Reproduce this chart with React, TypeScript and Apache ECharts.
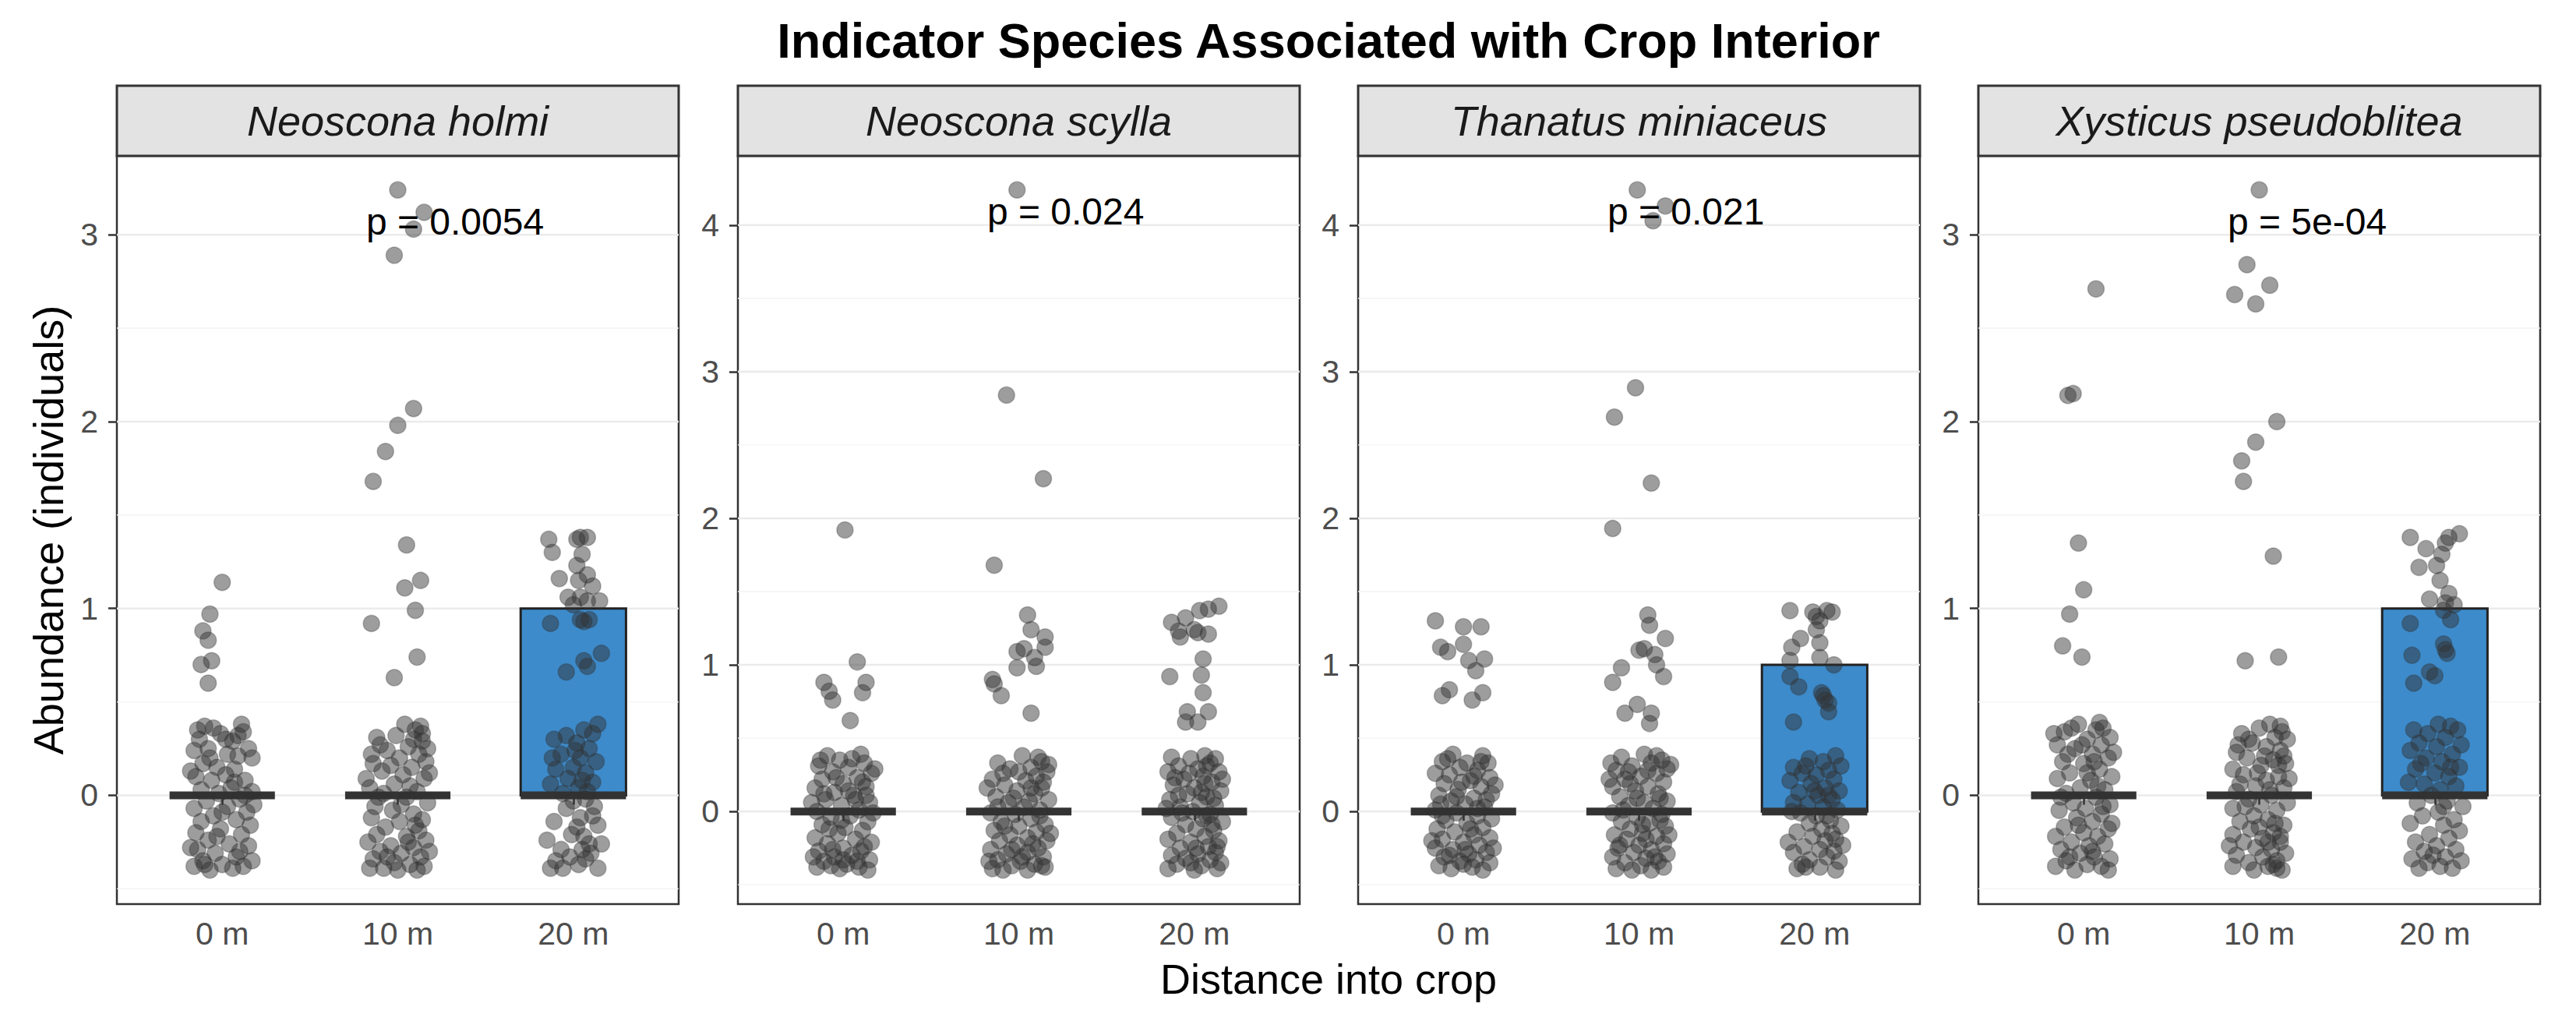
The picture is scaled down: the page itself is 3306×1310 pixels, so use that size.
import React, { useEffect, useRef } from "react";
import * as echarts from "echarts";

// ---------- data ----------
const chartTitle = "Indicator Species Associated with Crop Interior";
const xAxisTitle = "Distance into crop";
const yAxisTitle = "Abundance (individuals)";
const species = ["Neoscona holmi", "Neoscona scylla", "Thanatus miniaceus", "Xysticus pseudoblitea"];
const distances = ["0 m", "10 m", "20 m"];
const pValueLabels = ["p = 0.0054", "p = 0.024", "p = 0.021", "p = 5e-04"];
const pLabelX = 1.82;
const pLabelY = [3.07, 4.09, 4.09, 3.07];
const yTickValues = [[0, 1, 2, 3], [0, 1, 2, 3, 4], [0, 1, 2, 3, 4], [0, 1, 2, 3]];
const boxQ1 = [[0, 0, 0], [0, 0, 0], [0, 0, 0], [0, 0, 0]];
const boxMedian = [[0, 0, 0], [0, 0, 0], [0, 0, 0], [0, 0, 0]];
const boxQ3 = [[0, 0, 1], [0, 0, 0], [0, 0, 1], [0, 0, 1]];

// jittered points: [horizontal offset from category, abundance with vertical jitter]
const holmi0: number[][] = [
  [0.00,1.14],[-0.07,0.97],[-0.11,0.88],[-0.08,0.83],[-0.12,0.70],[-0.06,0.72],[-0.08,0.60],
  [-0.10,0.37],[-0.05,0.36],[0.11,0.38],[0.12,0.34],[-0.13,0.30],[-0.01,0.33],[0.06,0.29],[-0.16,0.24],[-0.08,0.25],[0.03,0.22],
  [0.15,0.25],[0.09,0.21],[-0.11,0.17],[-0.03,0.15],[0.07,0.14],[-0.15,0.10],[-0.06,0.08],[0.02,0.11],[0.13,0.08],[-0.12,0.03],
  [0.05,0.04],[0.17,0.02],[-0.02,0.01],[-0.09,-0.03],[0.10,-0.02],[-0.16,-0.07],[0.03,-0.06],[0.14,-0.09],[-0.05,-0.11],[-0.12,-0.14],
  [0.08,-0.13],[0.16,-0.16],[-0.01,-0.18],[-0.15,-0.20],[0.11,-0.21],[-0.08,-0.24],[0.04,-0.26],[-0.14,-0.29],[0.15,-0.27],[-0.04,-0.31],
  [0.08,-0.33],[-0.11,-0.35],[0.17,-0.35],[0.00,-0.37],[-0.16,-0.38],[0.06,-0.39],[0.12,-0.38],[-0.07,-0.40],[0.02,0.30],[-0.14,0.35],
  [0.09,0.32],[0.17,0.20],[-0.18,0.13],[0.18,-0.05],[-0.18,-0.28],[-0.03,-0.22],[0.13,0.00],[-0.07,0.20],[0.00,-0.09],[0.07,0.07],
  [-0.10,-0.37],[0.10,-0.30],
];
const holmi10: number[][] = [
  [0.00,3.24],[0.15,3.12],[0.09,3.03],[-0.02,2.89],[0.09,2.07],[0.00,1.98],[-0.07,1.84],[-0.14,1.68],
  [0.05,1.34],[0.13,1.15],[0.04,1.11],[0.10,0.99],[-0.15,0.92],[0.11,0.74],[-0.02,0.63],
  [0.04,0.38],[0.10,0.35],[-0.12,0.31],[0.14,0.29],[0.06,0.26],[0.12,0.22],[-0.06,0.24],[0.01,0.20],[0.16,0.18],[-0.14,0.17],
  [-0.09,0.13],[0.08,0.15],[0.03,0.11],[-0.02,0.06],[0.15,0.09],[-0.16,0.04],[0.11,0.02],[-0.08,0.01],[0.05,-0.01],[0.17,-0.04],
  [-0.13,-0.06],[-0.03,-0.08],[0.09,-0.10],[0.14,-0.13],[-0.15,-0.12],[0.01,-0.14],[-0.07,-0.17],[0.12,-0.19],[-0.12,-0.21],[0.05,-0.22],
  [0.16,-0.24],[-0.17,-0.25],[-0.04,-0.27],[0.09,-0.28],[-0.10,-0.30],[0.02,-0.31],[0.13,-0.33],[-0.14,-0.34],[-0.02,-0.36],[0.07,-0.37],
  [0.15,-0.38],[-0.08,-0.39],[0.11,-0.40],[0.00,-0.40],[0.13,0.37],[-0.01,0.32],[0.09,0.30],[-0.10,0.27],[0.17,0.25],[0.07,0.05],
  [-0.11,-0.01],[0.02,-0.05],[-0.18,0.09],[0.18,0.12],[0.10,-0.16],[-0.06,-0.33],[0.06,-0.25],[-0.15,0.22],[0.14,0.33],[-0.04,0.16],
  [0.18,-0.30],[-0.16,-0.39],
];
const holmi20: number[][] = [
  [-0.14,1.37],[-0.12,1.30],[0.04,1.38],[0.08,1.38],[0.02,1.37],[0.05,1.29],[0.02,1.23],[-0.08,1.16],[0.08,1.18],[0.03,1.15],
  [-0.03,1.06],[0.04,1.06],[0.08,1.04],[0.15,1.04],[-0.13,0.92],[0.04,0.94],[0.09,0.94],[0.06,0.93],[0.16,0.76],[0.06,0.72],
  [0.08,0.69],[-0.04,0.66],[0.00,1.02],[0.11,1.12],
  [0.14,0.38],[0.11,0.33],[0.06,0.35],[-0.04,0.32],[-0.11,0.30],[0.02,0.28],[0.09,0.25],[-0.07,0.22],[0.04,0.20],[0.13,0.18],
  [-0.10,0.14],[0.00,0.15],[0.07,0.12],[-0.03,0.09],[0.11,0.07],[-0.13,0.06],[0.03,0.04],[0.08,0.02],[-0.06,0.01],[-0.12,0.20],
  [0.05,0.08],[0.01,0.24],[0.00,-0.03],[0.07,-0.02],[0.12,-0.06],[-0.04,-0.07],[0.04,-0.12],[-0.11,-0.14],[0.14,-0.16],[0.02,-0.17],
  [0.06,-0.22],[0.09,-0.26],[-0.15,-0.24],[0.16,-0.26],[0.10,-0.31],[-0.07,-0.29],[-0.02,-0.33],[-0.13,-0.39],[-0.06,-0.39],[0.03,-0.37],
  [0.14,-0.39],[0.07,-0.34],[-0.10,-0.35],[0.11,-0.11],[-0.01,-0.21],[0.05,-0.29],
];
const scylla0: number[][] = [
  [0.01,1.92],[0.08,1.02],[-0.11,0.88],[-0.08,0.82],[-0.06,0.76],[0.13,0.88],[0.11,0.81],[0.04,0.62],
  [-0.09,0.38],[0.10,0.39],[-0.02,0.35],[0.12,0.33],[-0.14,0.31],[0.03,0.30],[-0.06,0.27],[0.16,0.26],[0.08,0.23],[-0.12,0.22],
  [0.00,0.19],[-0.16,0.16],[0.13,0.17],[-0.05,0.13],[0.06,0.11],[0.15,0.06],[-0.10,0.08],[-0.01,0.04],[0.09,0.01],[-0.15,0.00],
  [0.04,-0.03],[-0.07,-0.04],[0.14,-0.07],[-0.12,-0.09],[0.01,-0.11],[0.11,-0.13],[-0.03,-0.15],[-0.16,-0.18],[0.07,-0.19],[0.16,-0.21],
  [-0.09,-0.22],[0.00,-0.25],[-0.14,-0.27],[0.10,-0.27],[0.05,-0.30],[-0.05,-0.31],[0.15,-0.33],[-0.11,-0.34],[0.02,-0.36],[-0.02,-0.39],
  [0.09,-0.38],[-0.15,-0.38],[0.14,-0.40],[-0.07,-0.37],[0.05,0.36],[-0.11,0.12],[0.11,0.20],[-0.08,-0.12],[0.17,-0.01],[-0.18,0.06],
  [0.07,0.08],[-0.04,0.23],[0.12,-0.24],[-0.01,-0.06],[-0.17,-0.31],[0.03,0.14],[0.08,-0.34],[-0.13,0.35],[0.18,0.29],[-0.06,-0.26],
  [0.13,0.11],[0.00,-0.33],
];
const scylla10: number[][] = [
  [-0.01,4.24],[-0.07,2.84],[0.14,2.27],[-0.14,1.68],
  [0.05,1.34],[0.07,1.24],[0.15,1.19],[0.15,1.12],[0.03,1.11],[-0.01,1.09],[0.09,1.05],[0.10,0.99],[-0.01,0.98],[-0.15,0.90],
  [-0.14,0.87],[-0.10,0.79],[0.07,0.67],
  [0.02,0.38],[-0.12,0.33],[0.13,0.34],[0.07,0.30],[-0.05,0.29],[0.16,0.27],[0.10,0.24],[-0.15,0.22],[0.04,0.21],[-0.08,0.18],
  [0.13,0.16],[-0.01,0.14],[0.09,0.12],[-0.13,0.10],[0.17,0.08],[-0.06,0.06],[0.03,0.03],[0.12,0.01],[-0.16,-0.01],[-0.02,-0.02],
  [0.07,-0.05],[-0.10,-0.07],[0.15,-0.09],[0.00,-0.10],[-0.14,-0.13],[0.10,-0.14],[-0.05,-0.16],[0.05,-0.18],[0.16,-0.20],[-0.11,-0.20],
  [-0.01,-0.23],[0.11,-0.25],[-0.16,-0.26],[0.05,-0.28],[-0.07,-0.29],[0.14,-0.31],[-0.12,-0.33],[0.01,-0.34],[0.09,-0.36],[-0.04,-0.37],
  [0.15,-0.38],[-0.15,-0.39],[0.05,-0.40],[-0.09,-0.40],[0.11,0.37],[-0.09,0.26],[0.06,0.07],[0.14,0.20],[-0.03,0.09],[0.18,-0.15],
  [-0.18,0.16],[0.08,-0.22],[-0.08,-0.10],[0.12,-0.03],[-0.12,0.03],[0.02,-0.31],[0.17,0.32],[-0.04,-0.26],[0.00,0.27],[0.13,-0.37],
  [-0.17,-0.34],[0.07,0.16],
];
const scylla20: number[][] = [
  [0.14,1.40],[0.08,1.38],[0.03,1.37],[-0.05,1.32],[-0.13,1.29],[-0.09,1.23],[-0.08,1.19],[0.00,1.24],[0.08,1.21],[0.02,1.22],
  [0.05,1.04],[-0.14,0.92],[0.04,0.93],[0.05,0.81],[-0.04,0.68],[0.08,0.68],[-0.05,0.61],[0.02,0.61],
  [-0.13,0.37],[0.06,0.38],[-0.02,0.36],[0.12,0.36],[0.09,0.33],[-0.09,0.31],[0.02,0.29],[-0.15,0.27],[0.14,0.27],[0.05,0.24],
  [-0.06,0.22],[0.10,0.20],[-0.12,0.18],[0.00,0.16],[0.15,0.14],[-0.04,0.12],[0.07,0.10],[-0.14,0.08],[0.03,0.06],[0.12,0.04],
  [-0.08,0.03],[-0.01,0.00],[0.09,-0.02],[-0.13,-0.04],[0.05,-0.05],[0.16,-0.07],[-0.05,-0.09],[0.01,-0.12],[0.11,-0.13],[-0.10,-0.15],
  [0.06,-0.17],[-0.15,-0.19],[0.14,-0.20],[-0.02,-0.21],[0.08,-0.24],[-0.08,-0.25],[0.12,-0.28],[0.02,-0.29],[-0.13,-0.30],[-0.05,-0.32],
  [0.09,-0.33],[0.15,-0.35],[-0.10,-0.36],[0.04,-0.37],[-0.15,-0.39],[0.13,-0.39],[0.00,-0.40],[0.07,0.31],[-0.11,0.23],[0.04,0.13],
  [0.10,-0.09],[-0.07,-0.01],[-0.03,0.26],[0.16,0.22],[0.01,-0.25],[-0.09,0.11],[0.11,0.09],[-0.02,-0.35],[0.07,-0.03],[0.13,-0.24],
  [-0.16,0.02],[0.06,0.19],
];
const thanatus0: number[][] = [
  [-0.16,1.30],[0.00,1.26],[0.10,1.26],[-0.13,1.12],[-0.09,1.09],[0.00,1.14],[0.03,1.03],[0.12,1.04],[0.07,0.96],[-0.08,0.83],
  [-0.12,0.79],[0.11,0.81],[0.05,0.76],
  [-0.06,0.39],[0.11,0.38],[-0.12,0.34],[0.02,0.33],[0.14,0.33],[-0.02,0.30],[0.08,0.28],[-0.16,0.26],[-0.08,0.25],[0.15,0.23],
  [0.04,0.21],[-0.11,0.19],[0.10,0.17],[-0.03,0.15],[0.16,0.12],[-0.14,0.11],[0.06,0.09],[-0.07,0.07],[0.01,0.05],[0.12,0.03],
  [-0.16,0.01],[-0.04,-0.01],[0.08,-0.03],[0.16,-0.05],[-0.10,-0.06],[0.02,-0.08],[0.11,-0.11],[-0.15,-0.12],[-0.05,-0.14],[0.06,-0.16],
  [0.15,-0.18],[-0.12,-0.19],[0.00,-0.21],[0.09,-0.23],[-0.16,-0.25],[-0.06,-0.26],[0.13,-0.28],[0.03,-0.29],[-0.11,-0.31],[0.07,-0.33],
  [-0.02,-0.34],[0.15,-0.35],[-0.14,-0.37],[0.05,-0.38],[-0.07,-0.39],[0.11,-0.40],[0.00,-0.36],[-0.09,0.36],[0.06,0.24],[-0.13,0.05],
  [0.13,0.08],[-0.01,0.20],[0.18,0.18],[-0.18,-0.20],[0.04,-0.12],[-0.08,-0.30],[0.10,0.34],[-0.04,0.10],[0.17,-0.25],[0.08,0.02],
  [-0.12,-0.03],[0.01,-0.26],
];
const thanatus10: number[][] = [
  [-0.01,4.24],[0.15,4.13],[0.08,4.03],[-0.02,2.89],[-0.14,2.69],[0.07,2.24],[-0.15,1.93],
  [0.05,1.34],[0.06,1.27],[0.15,1.18],[0.00,1.10],[0.03,1.11],[0.09,1.07],[0.10,1.00],[0.14,0.92],[-0.10,0.98],[-0.15,0.88],
  [-0.01,0.73],[-0.08,0.67],[0.07,0.67],[0.06,0.60],
  [0.03,0.39],[-0.10,0.37],[0.13,0.35],[0.07,0.33],[-0.04,0.31],[0.16,0.29],[-0.13,0.28],[0.10,0.26],[0.01,0.24],[-0.08,0.22],
  [0.14,0.20],[-0.15,0.17],[0.05,0.17],[-0.02,0.14],[0.11,0.12],[-0.11,0.10],[0.16,0.07],[0.03,0.06],[-0.06,0.04],[0.08,0.02],
  [-0.15,-0.01],[0.13,-0.02],[-0.01,-0.04],[-0.10,-0.07],[0.06,-0.08],[0.15,-0.10],[-0.05,-0.12],[0.02,-0.15],[-0.14,-0.16],[0.10,-0.17],
  [-0.07,-0.19],[0.14,-0.22],[0.00,-0.23],[-0.12,-0.25],[0.07,-0.26],[-0.03,-0.28],[0.16,-0.29],[-0.15,-0.31],[0.04,-0.32],[0.11,-0.34],
  [-0.08,-0.35],[0.01,-0.37],[0.14,-0.38],[-0.13,-0.39],[0.07,-0.40],[-0.04,-0.40],[0.10,0.38],[-0.06,0.27],[0.12,0.09],[-0.17,0.22],
  [0.04,-0.19],[-0.09,0.01],[0.17,-0.16],[0.09,-0.31],[-0.01,0.09],[0.18,0.32],[-0.11,-0.23],[0.05,0.28],[-0.16,0.33],[0.12,-0.06],
  [0.02,-0.09],[-0.05,0.19],
];
const thanatus20: number[][] = [
  [-0.14,1.37],[-0.01,1.36],[0.07,1.37],[0.10,1.36],[0.03,1.30],[0.01,1.24],[-0.08,1.18],[-0.13,1.12],[0.03,1.15],[0.03,1.05],
  [-0.14,1.03],[0.11,1.00],[-0.14,0.92],[-0.09,0.85],[0.04,0.81],[0.08,0.74],[0.06,0.76],[-0.12,0.61],[0.08,0.68],[0.01,1.33],
  [0.05,0.79],
  [0.12,0.38],[-0.03,0.36],[0.05,0.34],[-0.12,0.30],[0.15,0.31],[0.08,0.28],[-0.07,0.26],[0.01,0.25],[0.11,0.22],[-0.14,0.21],
  [-0.02,0.19],[0.06,0.16],[0.14,0.14],[-0.09,0.13],[0.02,0.11],[0.10,0.08],[-0.12,0.06],[-0.04,0.05],[0.05,0.03],[0.13,0.01],
  [-0.08,-0.01],[0.01,-0.03],[0.09,-0.06],[-0.03,-0.08],[0.15,-0.10],[0.04,-0.12],[-0.10,-0.14],[0.10,-0.15],[-0.01,-0.17],[0.06,-0.20],
  [-0.15,-0.21],[0.16,-0.23],[-0.06,-0.24],[0.03,-0.26],[0.11,-0.27],[-0.12,-0.28],[0.07,-0.31],[-0.03,-0.33],[0.14,-0.34],[-0.07,-0.36],
  [-0.10,-0.39],[0.03,-0.38],[0.12,-0.40],[-0.05,-0.38],[0.08,0.11],[-0.05,0.31],[0.12,-0.19],[0.00,0.14],[-0.13,0.00],[0.07,-0.03],
];
const xysticus0: number[][] = [
  [0.07,2.71],[-0.09,2.14],[-0.06,2.15],[-0.03,1.35],[0.00,1.10],[-0.08,0.97],[-0.12,0.80],[-0.01,0.74],
  [-0.03,0.38],[0.09,0.39],[0.07,0.35],[-0.11,0.34],[-0.07,0.36],[0.15,0.31],[0.02,0.30],[-0.15,0.27],[0.10,0.27],[-0.05,0.25],
  [0.05,0.22],[0.14,0.20],[-0.12,0.18],[0.00,0.17],[0.09,0.14],[-0.08,0.12],[0.16,0.10],[-0.15,0.09],[0.04,0.08],[-0.02,0.04],
  [0.12,0.03],[-0.10,0.01],[0.07,-0.01],[-0.06,-0.04],[0.15,-0.05],[0.01,-0.07],[-0.14,-0.08],[0.10,-0.10],[-0.04,-0.12],[0.05,-0.14],
  [-0.11,-0.17],[0.14,-0.18],[0.00,-0.20],[-0.16,-0.22],[0.08,-0.22],[-0.07,-0.25],[0.03,-0.27],[-0.13,-0.29],[0.12,-0.26],[-0.02,-0.31],
  [0.06,-0.33],[0.15,-0.34],[-0.10,-0.35],[-0.16,-0.38],[0.02,-0.37],[0.10,-0.38],[-0.05,-0.40],[0.14,-0.40],[0.11,0.36],[-0.09,0.22],
  [0.02,0.12],[-0.13,-0.01],[0.17,0.23],[0.08,0.05],[-0.03,-0.16],[0.16,-0.15],[-0.17,0.33],[0.05,-0.30],[-0.08,-0.33],[0.11,-0.06],
  [-0.01,0.27],[0.06,0.18],
];
const xysticus10: number[][] = [
  [0.00,3.24],[-0.07,2.84],[0.06,2.73],[-0.14,2.68],[-0.02,2.63],[0.10,2.00],[-0.02,1.89],[-0.10,1.79],[-0.09,1.68],
  [0.08,1.28],[-0.08,0.72],[0.11,0.74],
  [0.06,0.38],[0.00,0.36],[0.13,0.34],[-0.10,0.33],[0.09,0.31],[0.16,0.30],[-0.04,0.28],[0.04,0.26],[0.12,0.24],[-0.13,0.23],
  [-0.07,0.20],[0.08,0.19],[0.15,0.17],[0.01,0.16],[-0.15,0.14],[-0.09,0.11],[0.11,0.10],[0.04,0.08],[-0.02,0.05],[0.14,0.04],
  [-0.13,0.02],[0.07,0.00],[-0.06,-0.02],[0.16,-0.04],[0.01,-0.05],[-0.15,-0.07],[0.10,-0.08],[-0.03,-0.11],[0.05,-0.13],[-0.11,-0.14],
  [0.14,-0.16],[-0.05,-0.18],[0.08,-0.20],[-0.15,-0.21],[0.02,-0.23],[0.12,-0.25],[-0.09,-0.25],[-0.02,-0.28],[0.07,-0.29],[0.15,-0.31],
  [-0.13,-0.32],[0.02,-0.33],[0.10,-0.35],[-0.06,-0.36],[-0.15,-0.38],[0.05,-0.38],[0.13,-0.40],[-0.03,-0.40],[0.10,-0.39],[0.12,0.37],
  [-0.06,0.30],[0.03,0.21],[-0.11,0.06],[0.09,-0.15],[-0.01,0.12],[0.17,0.09],[0.05,-0.25],[-0.08,-0.06],[0.12,-0.22],[-0.17,-0.27],
  [0.00,-0.17],[0.14,0.21],[-0.12,0.27],[0.06,0.03],[0.11,0.16],[0.08,-0.37],
];
const xysticus20: number[][] = [
  [-0.14,1.38],[0.14,1.40],[0.08,1.38],[0.06,1.35],[-0.05,1.32],[0.04,1.29],[-0.09,1.22],[0.01,1.23],[0.03,1.15],[0.08,1.08],
  [-0.03,1.05],[0.06,1.03],[0.11,1.02],[0.05,0.99],[-0.14,0.92],[0.09,0.94],[0.05,0.81],[0.07,0.76],[-0.13,0.75],[-0.03,0.66],
  [0.00,0.64],[-0.12,0.60],[0.06,0.78],
  [0.02,0.38],[-0.12,0.35],[0.09,0.37],[0.13,0.35],[-0.04,0.33],[0.06,0.31],[-0.09,0.28],[0.15,0.27],[0.01,0.26],[-0.14,0.24],
  [0.10,0.22],[-0.05,0.20],[0.04,0.18],[0.14,0.15],[-0.11,0.14],[0.00,0.12],[0.08,0.10],[-0.15,0.07],[-0.06,0.06],[0.12,0.05],
  [0.03,0.03],[-0.02,0.00],[0.07,-0.03],[-0.10,-0.04],[0.16,-0.06],[0.02,-0.09],[-0.07,-0.11],[0.11,-0.13],[-0.14,-0.15],[0.05,-0.16],
  [0.14,-0.19],[-0.03,-0.21],[0.08,-0.23],[-0.11,-0.25],[0.01,-0.27],[0.12,-0.29],[-0.06,-0.30],[0.06,-0.33],[-0.13,-0.34],[0.15,-0.35],
  [-0.04,-0.36],[-0.09,-0.39],[0.10,-0.39],[0.03,-0.38],[0.09,0.15],[-0.08,0.17],[0.05,-0.06],[-0.01,-0.32],
];
const speciesPoints = [
  [holmi0, holmi10, holmi20],
  [scylla0, scylla10, scylla20],
  [thanatus0, thanatus10, thanatus20],
  [xysticus0, xysticus10, xysticus20],
];

// ---------- layout & style ----------
const W = 3306;
const H = 1310;
const FONT = '"Liberation Sans", Arial, Helvetica, sans-serif';
const panelLefts = [150, 947, 1743, 2539];
const panelWidth = 721;
const plotTop = 200;
const plotBottom = 1160;
const stripTop = 110;
const stripHeight = 90;
const boxColor = "#3d8bcb";
const pointFill = "rgba(51,51,51,0.6)";
const pointStroke = "rgba(51,51,51,0.4)";

function yRange(groups: number[][][]) {
  let lo = Infinity;
  let hi = -Infinity;
  groups.forEach((g) => g.forEach((p) => { lo = Math.min(lo, p[1]); hi = Math.max(hi, p[1]); }));
  const pad = (hi - lo) * 0.05;
  return [lo - pad, hi + pad];
}

function buildOption() {
  const grids: any[] = [];
  const xAxes: any[] = [];
  const yAxes: any[] = [];
  const series: any[] = [];
  const graphics: any[] = [];

  species.forEach((name, i) => {
    const [ymin, ymax] = yRange(speciesPoints[i]);
    grids.push({
      left: panelLefts[i], top: plotTop, width: panelWidth, height: plotBottom - plotTop,
      show: true, borderColor: "#333333", borderWidth: 2.5, backgroundColor: "#ffffff",
    });
    xAxes.push({
      type: "value", gridIndex: i, min: 0.4, max: 3.6,
      axisLine: { show: false }, splitLine: { show: false },
      axisTick: { show: true, customValues: [1, 2, 3], length: 12, lineStyle: { color: "#333333", width: 2.5 } },
      axisLabel: {
        customValues: [1, 2, 3], formatter: (v: number) => distances[Math.round(v) - 1] ?? "",
        color: "#4d4d4d", fontSize: 41, fontFamily: FONT, margin: 17,
      },
    });
    yAxes.push({
      type: "value", gridIndex: i, min: ymin, max: ymax,
      axisLine: { show: false }, splitLine: { show: false },
      axisTick: { show: true, customValues: yTickValues[i], length: 11, lineStyle: { color: "#333333", width: 2.5 } },
      axisLabel: { customValues: yTickValues[i], color: "#4d4d4d", fontSize: 41, fontFamily: FONT, margin: 24 },
    });

    // gridlines: [value, 1 = major / 0 = minor]
    const majors = yTickValues[i];
    const gridData: number[][] = [];
    for (let k = 0; k < majors.length + 1; k++) {
      const v = -0.5 + k;
      if (v > ymin && v < ymax) gridData.push([v, 0]);
    }
    majors.forEach((v) => gridData.push([v, 1]));
    series.push({
      type: "custom", xAxisIndex: i, yAxisIndex: i, z: 1, silent: true, clip: true,
      data: gridData,
      renderItem: (_params: any, api: any) => {
        const v = api.value(0);
        const major = api.value(1) === 1;
        const a = api.coord([0.4, v]);
        const b = api.coord([3.6, v]);
        return {
          type: "line",
          shape: { x1: a[0], y1: a[1], x2: b[0], y2: b[1] },
          style: { stroke: major ? "#ebebeb" : "#f3f3f3", lineWidth: major ? 2.6 : 1.4 },
        };
      },
    });

    series.push({
      type: "custom", xAxisIndex: i, yAxisIndex: i, z: 2, silent: true, clip: false,
      data: distances.map((_, j) => [j + 1, boxQ1[i][j], boxMedian[i][j], boxQ3[i][j]]),
      renderItem: (_params: any, api: any) => {
        const x = api.value(0);
        const lo = api.value(1);
        const med = api.value(2);
        const hi = api.value(3);
        const tl = api.coord([x - 0.3, hi]);
        const br = api.coord([x + 0.3, lo]);
        const ml = api.coord([x - 0.3, med]);
        const mr = api.coord([x + 0.3, med]);
        const children: any[] = [];
        if (hi > lo) {
          children.push({
            type: "rect",
            shape: { x: tl[0], y: tl[1], width: br[0] - tl[0], height: br[1] - tl[1] },
            style: { fill: boxColor, stroke: "#222222", lineWidth: 3 },
          });
        }
        children.push({
          type: "line",
          shape: { x1: ml[0], y1: ml[1], x2: mr[0], y2: mr[1] },
          style: { stroke: "#333333", lineWidth: 10, lineCap: "butt" },
        });
        return { type: "group", children };
      },
    });

    const pts: number[][] = [];
    speciesPoints[i].forEach((g, j) => g.forEach((p) => pts.push([j + 1 + p[0], p[1]])));
    series.push({
      type: "scatter", xAxisIndex: i, yAxisIndex: i, z: 3, silent: true,
      symbol: "circle", symbolSize: 21, data: pts,
      itemStyle: { color: pointFill, borderColor: pointStroke, borderWidth: 1.5 },
    });

    series.push({
      type: "custom", xAxisIndex: i, yAxisIndex: i, z: 4, silent: true, clip: false,
      data: [[pLabelX, pLabelY[i]]],
      renderItem: (_params: any, api: any) => {
        const p = api.coord([api.value(0), api.value(1)]);
        return {
          type: "text", x: p[0], y: p[1],
          style: { text: pValueLabels[i], fill: "#000000", fontSize: 48, fontFamily: FONT, align: "left", verticalAlign: "middle" },
        };
      },
    });

    graphics.push({
      type: "rect", z: 10,
      shape: { x: panelLefts[i], y: stripTop, width: panelWidth, height: stripHeight },
      style: { fill: "#e3e3e3", stroke: "#333333", lineWidth: 3 },
    });
    graphics.push({
      type: "text", z: 11, x: panelLefts[i] + panelWidth / 2, y: stripTop + stripHeight / 2,
      style: { text: name, fontSize: 54, fontStyle: "italic", fontFamily: FONT, fill: "#1a1a1a", align: "center", verticalAlign: "middle" },
    });
  });

  const centerX = (panelLefts[0] + panelLefts[3] + panelWidth) / 2;
  graphics.push({
    type: "text", x: centerX, y: 52,
    style: { text: chartTitle, fontSize: 63, fontWeight: "bold", fontFamily: FONT, fill: "#000000", align: "center", verticalAlign: "middle" },
  });
  graphics.push({
    type: "text", x: centerX, y: 1256,
    style: { text: xAxisTitle, fontSize: 54, fontFamily: FONT, fill: "#000000", align: "center", verticalAlign: "middle" },
  });
  graphics.push({
    type: "text", x: 62, y: (plotTop + plotBottom) / 2, rotation: Math.PI / 2,
    style: { text: yAxisTitle, fontSize: 54, fontFamily: FONT, fill: "#000000", align: "center", verticalAlign: "middle" },
  });

  return {
    animation: false,
    backgroundColor: "#ffffff",
    textStyle: { fontFamily: FONT },
    grid: grids,
    xAxis: xAxes,
    yAxis: yAxes,
    series,
    graphic: graphics,
  };
}

export default function App() {
  const ref = useRef<HTMLDivElement>(null);
  useEffect(() => {
    if (!ref.current) return;
    const chart = echarts.init(ref.current, null, { renderer: "svg", width: W, height: H });
    chart.setOption(buildOption() as any);
    return () => chart.dispose();
  }, []);
  return (
    <div
      ref={ref}
      style={{ position: "fixed", left: 0, top: 0, width: W, height: H, background: "#ffffff" }}
    />
  );
}
